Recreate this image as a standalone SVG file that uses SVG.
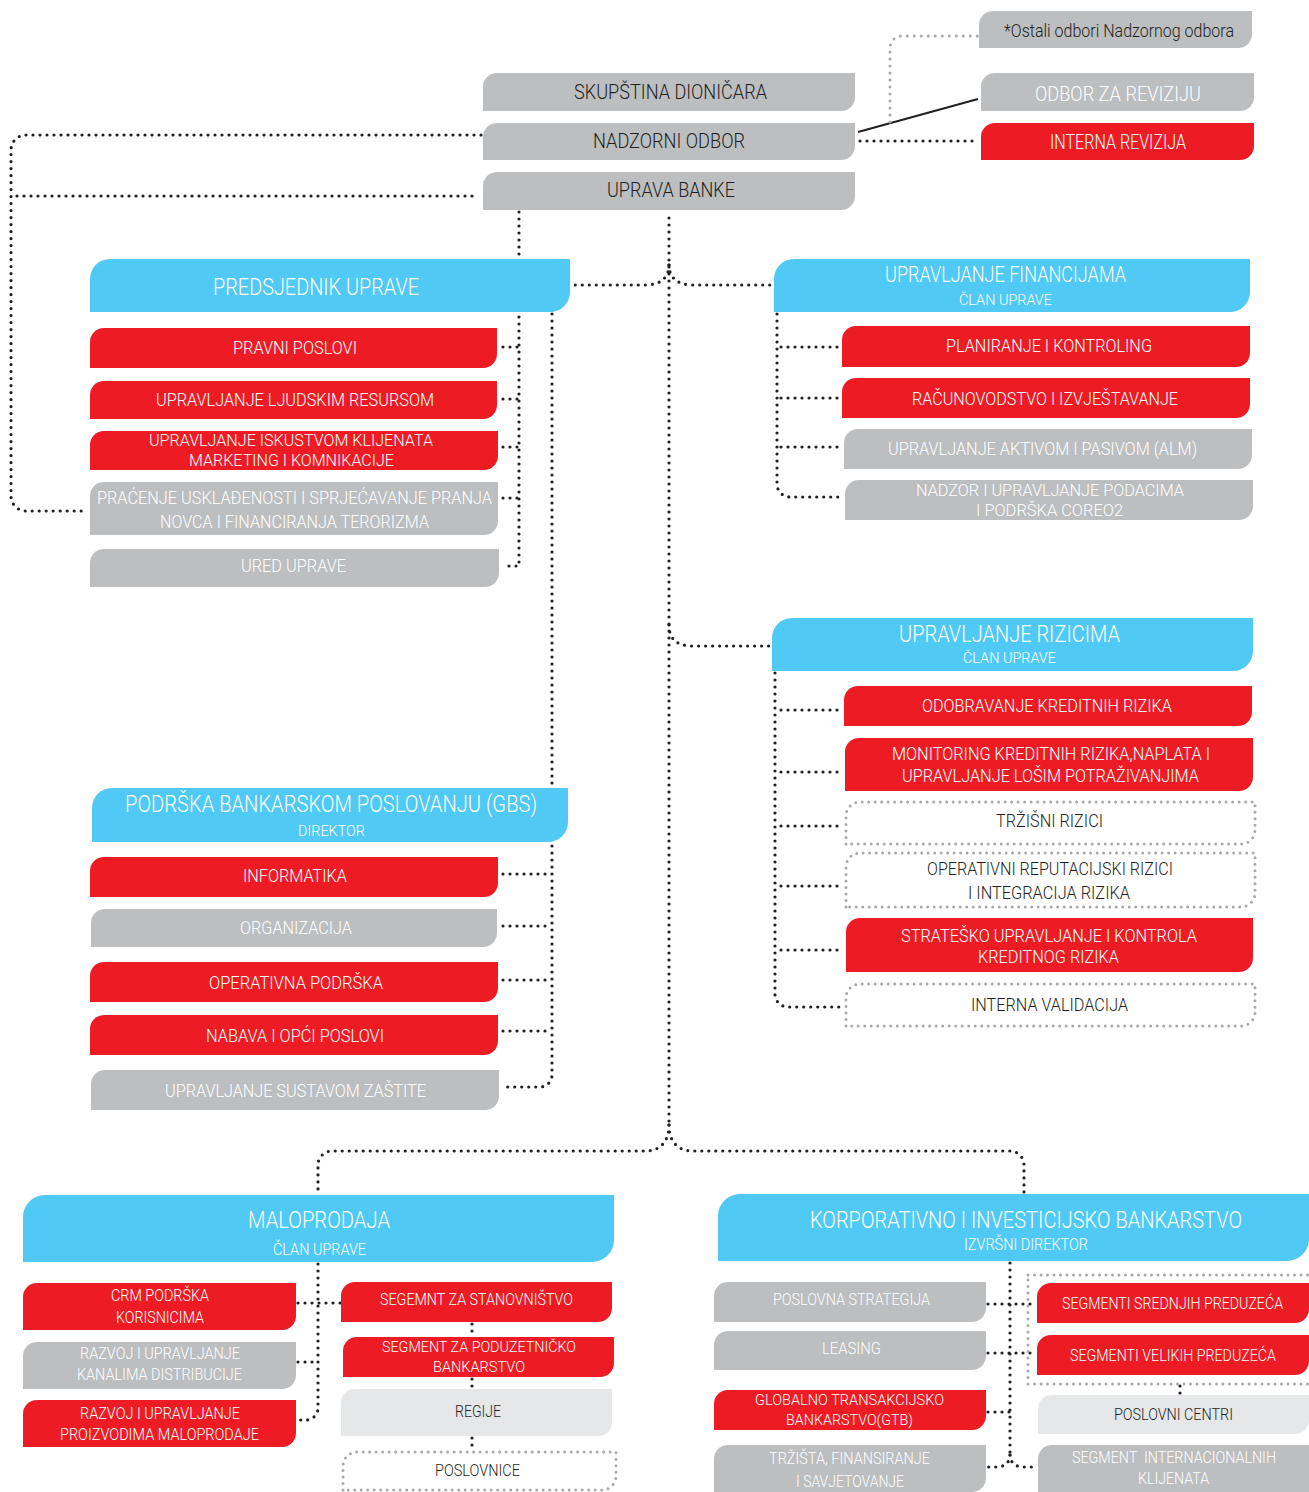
<svg xmlns="http://www.w3.org/2000/svg" width="1309" height="1492" viewBox="0 0 1309 1492">
<style>
.g{fill:#bcbec0}.r{fill:#ed1c24}.b{fill:#50c9f4}.l{fill:#e6e7e8}
.ob{fill:none;stroke:#a7a9ac;stroke-width:3;stroke-dasharray:0 6.5;stroke-linecap:round}
.d{fill:none;stroke:#231f20;stroke-width:3.2;stroke-dasharray:0 7;stroke-linecap:round}
.gd{fill:none;stroke:#a7a9ac;stroke-width:3;stroke-dasharray:0 7;stroke-linecap:round}
text{font-family:Roboto,"Liberation Sans",sans-serif;font-weight:300;text-anchor:middle}
.w{fill:#fff}.k{fill:#231f20}
.f24{font-size:24px}.f23{font-size:23px}.f22{font-size:22px}.f21{font-size:21px}.f20{font-size:20px}.f19{font-size:19px}.f18{font-size:18px}.f17{font-size:17px}.f16{font-size:16px}.f15{font-size:15px}
</style>
<rect width="1309" height="1492" fill="#fff"/>
<g id="connectors">
<path class="d" d="M860,141H978"/>
<path class="d" d="M481,135H26A15,15 0 0 0 11,150V496A15,15 0 0 0 26,511H88"/>
<path class="d" d="M472,196H11"/>
<path d="M858,132L978,99" stroke="#231f20" stroke-width="2" fill="none"/>
<path class="gd" d="M890,122V48A12,12 0 0 1 902,36H978"/>
<path class="d" d="M519,212V566H503"/>
<path class="d" d="M503,347H519M503,399H519M503,447H519M503,498H519"/>
<path class="d" d="M552,314V1075A12,12 0 0 1 540,1087H503"/>
<path class="d" d="M503,874H552M503,926H552M503,980H552M503,1031H552"/>
<path class="d" d="M669,218V1125"/>
<path class="d" d="M669,265C669,278 660,285 645,285H572"/>
<path class="d" d="M669,265C669,278 678,285 693,285H772"/>
<path class="d" d="M669,625C669,640 678,646 693,646H770"/>
<path class="d" d="M669,1125C669,1142 660,1151 645,1151H332A14,14 0 0 0 318,1165V1193"/>
<path class="d" d="M669,1125C669,1142 678,1151 693,1151H1010A14,14 0 0 1 1024,1165V1192"/>
<path class="d" d="M777,314V484A13,13 0 0 0 790,497H842"/>
<path class="d" d="M781,347H840M781,398H840M781,447H842"/>
<path class="d" d="M775,673V994A13,13 0 0 0 788,1007H845"/>
<path class="d" d="M781,710H842M781,772H842M781,826H842M781,886H842M781,950H842"/>
<path class="d" d="M318,1264V1408A12,12 0 0 1 306,1420H298"/>
<path class="d" d="M298,1303H341M298,1362H318"/>
<path class="d" d="M472,1324V1336M472,1379V1388M472,1438V1451"/>
<path class="d" d="M1010,1263V1455"/>
<path class="d" d="M1010,1455C1010,1463 1004,1467 996,1467H988"/>
<path class="d" d="M1010,1455C1010,1463 1016,1467 1024,1467H1038"/>
<path class="d" d="M988,1304H1037M988,1353H1037M988,1412H1010"/>
<path class="d" d="M1180,1386V1394"/>
</g>
<g id="n-skupstina"><path class="g" d="M483,111V87A14,14 0 0 1 497,73H855V97A14,14 0 0 1 841,111Z"/><text class="k f21" x="670.5" y="98.5" textLength="193" lengthAdjust="spacingAndGlyphs">SKUPŠTINA DIONIČARA</text></g>
<g id="n-nadzorni"><path class="g" d="M483,160V137A14,14 0 0 1 497,123H855V146A14,14 0 0 1 841,160Z"/><text class="k f21" x="669" y="147.5" textLength="152" lengthAdjust="spacingAndGlyphs">NADZORNI ODBOR</text></g>
<g id="n-uprava"><path class="g" d="M483,210V186A14,14 0 0 1 497,172H855V196A14,14 0 0 1 841,210Z"/><text class="k f21" x="671" y="196.5" textLength="128" lengthAdjust="spacingAndGlyphs">UPRAVA BANKE</text></g>
<g id="n-ostali"><path class="g" d="M979,48V25A14,14 0 0 1 993,11H1252V34A14,14 0 0 1 1238,48Z"/><text class="k f19" x="1119" y="36.5" textLength="230" lengthAdjust="spacingAndGlyphs">*Ostali odbori Nadzornog odbora</text></g>
<g id="n-odbor"><path class="g" d="M981,111V87A14,14 0 0 1 995,73H1254V97A14,14 0 0 1 1240,111Z"/><text class="w f21" x="1118" y="100.5" textLength="166" lengthAdjust="spacingAndGlyphs">ODBOR ZA REVIZIJU</text></g>
<g id="n-interna"><path class="r" d="M981,160V137A14,14 0 0 1 995,123H1254V146A14,14 0 0 1 1240,160Z"/><text class="w f20" x="1118" y="149" textLength="136" lengthAdjust="spacingAndGlyphs">INTERNA REVIZIJA</text></g>

<g id="n-predsjednik"><path class="b" d="M90,312V279A20,20 0 0 1 110,259H570V292A20,20 0 0 1 550,312Z"/><text class="w f24" x="316" y="294.5" textLength="206" lengthAdjust="spacingAndGlyphs">PREDSJEDNIK UPRAVE</text></g>
<g id="n-pravni"><path class="r" d="M90,368V342A14,14 0 0 1 104,328H497V354A14,14 0 0 1 483,368Z"/><text class="w f19" x="295" y="354" textLength="124" lengthAdjust="spacingAndGlyphs">PRAVNI POSLOVI</text></g>
<g id="n-ljudski"><path class="r" d="M90,419V395A14,14 0 0 1 104,381H497V405A14,14 0 0 1 483,419Z"/><text class="w f19" x="295" y="406" textLength="278" lengthAdjust="spacingAndGlyphs">UPRAVLJANJE LJUDSKIM RESURSOM</text></g>
<g id="n-iskustvo"><path class="r" d="M90,470V445A14,14 0 0 1 104,431H498V456A14,14 0 0 1 484,470Z"/><text class="w f16" x="291" y="445.8" textLength="284" lengthAdjust="spacingAndGlyphs">UPRAVLJANJE ISKUSTVOM KLIJENATA</text><text class="w f16" x="291.5" y="466.3" textLength="205" lengthAdjust="spacingAndGlyphs">MARKETING I KOMNIKACIJE</text></g>
<g id="n-pracenje"><path class="g" d="M90,535V496A14,14 0 0 1 104,482H498V521A14,14 0 0 1 484,535Z"/><text class="w f18" x="294.5" y="503.5" textLength="395" lengthAdjust="spacingAndGlyphs">PRAĆENJE USKLAĐENOSTI I SPRJEĆAVANJE PRANJA</text><text class="w f18" x="294.5" y="527.5" textLength="269" lengthAdjust="spacingAndGlyphs">NOVCA I FINANCIRANJA TERORIZMA</text></g>
<g id="n-ured"><path class="g" d="M90,587V563A14,14 0 0 1 104,549H499V573A14,14 0 0 1 485,587Z"/><text class="w f19" x="293.5" y="572" textLength="105" lengthAdjust="spacingAndGlyphs">URED UPRAVE</text></g>

<g id="n-financije"><path class="b" d="M774,312V279A20,20 0 0 1 794,259H1250V292A20,20 0 0 1 1230,312Z"/><text class="w f22" x="1005.5" y="282" textLength="241" lengthAdjust="spacingAndGlyphs">UPRAVLJANJE FINANCIJAMA</text><text class="w f15" x="1005.5" y="304.5" textLength="93" lengthAdjust="spacingAndGlyphs">ČLAN UPRAVE</text></g>
<g id="n-planiranje"><path class="r" d="M842,367V340A14,14 0 0 1 856,326H1250V353A14,14 0 0 1 1236,367Z"/><text class="w f19" x="1049" y="352" textLength="206" lengthAdjust="spacingAndGlyphs">PLANIRANJE I KONTROLING</text></g>
<g id="n-racunovodstvo"><path class="r" d="M842,418V392A14,14 0 0 1 856,378H1250V404A14,14 0 0 1 1236,418Z"/><text class="w f19" x="1045" y="405" textLength="266" lengthAdjust="spacingAndGlyphs">RAČUNOVODSTVO I IZVJEŠTAVANJE</text></g>
<g id="n-alm"><path class="g" d="M844,469V443A14,14 0 0 1 858,429H1252V455A14,14 0 0 1 1238,469Z"/><text class="w f19" x="1042.5" y="455" textLength="309" lengthAdjust="spacingAndGlyphs">UPRAVLJANJE AKTIVOM I PASIVOM (ALM)</text></g>
<g id="n-nadzor"><path class="g" d="M845,520V494A14,14 0 0 1 859,480H1253V506A14,14 0 0 1 1239,520Z"/><text class="w f17" x="1050" y="496" textLength="268" lengthAdjust="spacingAndGlyphs">NADZOR I UPRAVLJANJE PODACIMA</text><text class="w f17" x="1049.5" y="516" textLength="147" lengthAdjust="spacingAndGlyphs">I PODRŠKA COREO2</text></g>

<g id="n-rizici"><path class="b" d="M772,671V638A20,20 0 0 1 792,618H1253V651A20,20 0 0 1 1233,671Z"/><text class="w f23" x="1009.5" y="642" textLength="221" lengthAdjust="spacingAndGlyphs">UPRAVLJANJE RIZICIMA</text><text class="w f15" x="1009.5" y="662.5" textLength="93" lengthAdjust="spacingAndGlyphs">ČLAN UPRAVE</text></g>
<g id="n-odobravanje"><path class="r" d="M844,726V700A14,14 0 0 1 858,686H1252V712A14,14 0 0 1 1238,726Z"/><text class="w f19" x="1047" y="712" textLength="250" lengthAdjust="spacingAndGlyphs">ODOBRAVANJE KREDITNIH RIZIKA</text></g>
<g id="n-monitoring"><path class="r" d="M845,791V752A14,14 0 0 1 859,738H1253V777A14,14 0 0 1 1239,791Z"/><text class="w f18" x="1051" y="759.5" textLength="318" lengthAdjust="spacingAndGlyphs">MONITORING KREDITNIH RIZIKA,NAPLATA I</text><text class="w f18" x="1050.5" y="781.5" textLength="297" lengthAdjust="spacingAndGlyphs">UPRAVLJANJE LOŠIM POTRAŽIVANJIMA</text></g>
<g id="n-trzisni"><path class="ob" d="M846,844V816A14,14 0 0 1 860,802H1255V830A14,14 0 0 1 1241,844Z"/><text class="k f19" x="1049.5" y="827" textLength="107" lengthAdjust="spacingAndGlyphs">TRŽIŠNI RIZICI</text></g>
<g id="n-operativni"><path class="ob" d="M846,907V867A14,14 0 0 1 860,853H1255V893A14,14 0 0 1 1241,907Z"/><text class="k f18" x="1050" y="874.5" textLength="246" lengthAdjust="spacingAndGlyphs">OPERATIVNI REPUTACIJSKI RIZICI</text><text class="k f18" x="1049" y="898.5" textLength="162" lengthAdjust="spacingAndGlyphs">I INTEGRACIJA RIZIKA</text></g>
<g id="n-strateško"><path class="r" d="M846,972V932A14,14 0 0 1 860,918H1253V958A14,14 0 0 1 1239,972Z"/><text class="w f18" x="1049" y="941.5" textLength="296" lengthAdjust="spacingAndGlyphs">STRATEŠKO UPRAVLJANJE I KONTROLA</text><text class="w f18" x="1048.5" y="962.5" textLength="141" lengthAdjust="spacingAndGlyphs">KREDITNOG RIZIKA</text></g>
<g id="n-validacija"><path class="ob" d="M846,1026V998A14,14 0 0 1 860,984H1255V1012A14,14 0 0 1 1241,1026Z"/><text class="k f19" x="1049.5" y="1011" textLength="157" lengthAdjust="spacingAndGlyphs">INTERNA VALIDACIJA</text></g>

<g id="n-gbs"><path class="b" d="M92,842V808A20,20 0 0 1 112,788H568V822A20,20 0 0 1 548,842Z"/><text class="w f23" x="331" y="812" textLength="412" lengthAdjust="spacingAndGlyphs">PODRŠKA BANKARSKOM POSLOVANJU (GBS)</text><text class="w f15" x="331.5" y="835.5" textLength="67" lengthAdjust="spacingAndGlyphs">DIREKTOR</text></g>
<g id="n-informatika"><path class="r" d="M90,897V871A14,14 0 0 1 104,857H498V883A14,14 0 0 1 484,897Z"/><text class="w f19" x="295" y="882" textLength="104" lengthAdjust="spacingAndGlyphs">INFORMATIKA</text></g>
<g id="n-organizacija"><path class="g" d="M91,947V923A14,14 0 0 1 105,909H497V933A14,14 0 0 1 483,947Z"/><text class="w f19" x="296" y="934" textLength="112" lengthAdjust="spacingAndGlyphs">ORGANIZACIJA</text></g>
<g id="n-operativna"><path class="r" d="M90,1002V976A14,14 0 0 1 104,962H498V988A14,14 0 0 1 484,1002Z"/><text class="w f19" x="296" y="989" textLength="174" lengthAdjust="spacingAndGlyphs">OPERATIVNA PODRŠKA</text></g>
<g id="n-nabava"><path class="r" d="M90,1055V1029A14,14 0 0 1 104,1015H498V1041A14,14 0 0 1 484,1055Z"/><text class="w f19" x="295" y="1042" textLength="178" lengthAdjust="spacingAndGlyphs">NABAVA I OPĆI POSLOVI</text></g>
<g id="n-zastita"><path class="g" d="M91,1110V1084A14,14 0 0 1 105,1070H499V1096A14,14 0 0 1 485,1110Z"/><text class="w f19" x="295.5" y="1097" textLength="261" lengthAdjust="spacingAndGlyphs">UPRAVLJANJE SUSTAVOM ZAŠTITE</text></g>

<g id="n-maloprodaja"><path class="b" d="M23,1262V1217A22,22 0 0 1 45,1195H614V1240A22,22 0 0 1 592,1262Z"/><text class="w f23" x="319" y="1228" textLength="142" lengthAdjust="spacingAndGlyphs">MALOPRODAJA</text><text class="w f16" x="319.5" y="1254.5" textLength="93" lengthAdjust="spacingAndGlyphs">ČLAN UPRAVE</text></g>
<g id="n-crm"><path class="r" d="M23,1330V1297A14,14 0 0 1 37,1283H296V1316A14,14 0 0 1 282,1330Z"/><text class="w f16" x="160" y="1300.5" textLength="98" lengthAdjust="spacingAndGlyphs">CRM PODRŠKA</text><text class="w f16" x="160" y="1322.5" textLength="88" lengthAdjust="spacingAndGlyphs">KORISNICIMA</text></g>
<g id="n-kanali"><path class="g" d="M23,1389V1356A14,14 0 0 1 37,1342H296V1375A14,14 0 0 1 282,1389Z"/><text class="w f16" x="160" y="1358.5" textLength="160" lengthAdjust="spacingAndGlyphs">RAZVOJ I UPRAVLJANJE</text><text class="w f16" x="159.5" y="1379.5" textLength="165" lengthAdjust="spacingAndGlyphs">KANALIMA DISTRIBUCIJE</text></g>
<g id="n-proizvodi"><path class="r" d="M23,1447V1414A14,14 0 0 1 37,1400H296V1433A14,14 0 0 1 282,1447Z"/><text class="w f16" x="160" y="1418.5" textLength="160" lengthAdjust="spacingAndGlyphs">RAZVOJ I UPRAVLJANJE</text><text class="w f16" x="159.5" y="1439.5" textLength="199" lengthAdjust="spacingAndGlyphs">PROIZVODIMA MALOPRODAJE</text></g>
<g id="n-stanovnistvo"><path class="r" d="M341,1322V1296A14,14 0 0 1 355,1282H612V1308A14,14 0 0 1 598,1322Z"/><text class="w f17" x="476.5" y="1305" textLength="193" lengthAdjust="spacingAndGlyphs">SEGEMNT ZA STANOVNIŠTVO</text></g>
<g id="n-poduzetnicko"><path class="r" d="M343,1377V1351A14,14 0 0 1 357,1337H614V1363A14,14 0 0 1 600,1377Z"/><text class="w f15" x="479" y="1352.4" textLength="194" lengthAdjust="spacingAndGlyphs">SEGMENT ZA PODUZETNIČKO</text><text class="w f15" x="479" y="1372.4" textLength="92" lengthAdjust="spacingAndGlyphs">BANKARSTVO</text></g>
<g id="n-regije"><path class="l" d="M341,1436V1403A14,14 0 0 1 355,1389H612V1422A14,14 0 0 1 598,1436Z"/><text class="k f16" x="478" y="1416.5" textLength="46" lengthAdjust="spacingAndGlyphs">REGIJE</text></g>
<g id="n-poslovnice"><path class="ob" d="M343,1490V1466A14,14 0 0 1 357,1452H616V1476A14,14 0 0 1 602,1490Z"/><text class="k f16" x="477.5" y="1475.5" textLength="85" lengthAdjust="spacingAndGlyphs">POSLOVNICE</text></g>

<g id="n-korporativno"><path class="b" d="M718,1261V1216A22,22 0 0 1 740,1194H1309V1239A22,22 0 0 1 1287,1261Z"/><text class="w f23" x="1026" y="1228" textLength="432" lengthAdjust="spacingAndGlyphs">KORPORATIVNO I INVESTICIJSKO BANKARSTVO</text><text class="w f16" x="1026" y="1249.5" textLength="124" lengthAdjust="spacingAndGlyphs">IZVRŠNI DIREKTOR</text></g>
<g id="n-strategija"><path class="g" d="M714,1322V1296A14,14 0 0 1 728,1282H986V1308A14,14 0 0 1 972,1322Z"/><text class="w f16" x="851.5" y="1304.5" textLength="157" lengthAdjust="spacingAndGlyphs">POSLOVNA STRATEGIJA</text></g>
<g id="n-leasing"><path class="g" d="M714,1370V1345A14,14 0 0 1 728,1331H986V1356A14,14 0 0 1 972,1370Z"/><text class="w f16" x="851.5" y="1353.5" textLength="59" lengthAdjust="spacingAndGlyphs">LEASING</text></g>
<g id="n-gtb"><path class="r" d="M714,1430V1404A14,14 0 0 1 728,1390H986V1416A14,14 0 0 1 972,1430Z"/><text class="w f15" x="849.5" y="1405.4" textLength="189" lengthAdjust="spacingAndGlyphs">GLOBALNO TRANSAKCIJSKO</text><text class="w f15" x="849.5" y="1425.4" textLength="127" lengthAdjust="spacingAndGlyphs">BANKARSTVO(GTB)</text></g>
<g id="n-trzista"><path class="g" d="M714,1492V1459A14,14 0 0 1 728,1445H986V1478A14,14 0 0 1 972,1492Z"/><text class="w f16" x="849.5" y="1463.5" textLength="161" lengthAdjust="spacingAndGlyphs">TRŽIŠTA, FINANSIRANJE</text><text class="w f16" x="850" y="1486.5" textLength="108" lengthAdjust="spacingAndGlyphs">I SAVJETOVANJE</text></g>
<g id="n-segmenti-grupa"><rect class="ob" x="1028" y="1275" width="290" height="109"/></g>
<g id="n-srednja"><path class="r" d="M1037,1323V1297A14,14 0 0 1 1051,1283H1309V1309A14,14 0 0 1 1295,1323Z"/><text class="w f16" x="1172.5" y="1308.5" textLength="221" lengthAdjust="spacingAndGlyphs">SEGMENTI SREDNJIH PREDUZEĆA</text></g>
<g id="n-velika"><path class="r" d="M1037,1375V1349A14,14 0 0 1 1051,1335H1309V1361A14,14 0 0 1 1295,1375Z"/><text class="w f16" x="1173" y="1360.5" textLength="206" lengthAdjust="spacingAndGlyphs">SEGMENTI VELIKIH PREDUZEĆA</text></g>
<g id="n-centri"><path class="l" d="M1038,1434V1409A14,14 0 0 1 1052,1395H1309V1420A14,14 0 0 1 1295,1434Z"/><text class="k f16" x="1173.5" y="1419.5" textLength="119" lengthAdjust="spacingAndGlyphs">POSLOVNI CENTRI</text></g>
<g id="n-internacionalni"><path class="g" d="M1038,1492V1459A14,14 0 0 1 1052,1445H1309V1492Z"/><text class="w f16" x="1174" y="1462.5" textLength="204" lengthAdjust="spacingAndGlyphs" xml:space="preserve">SEGMENT  INTERNACIONALNIH</text><text class="w f16" x="1173.5" y="1483.5" textLength="71" lengthAdjust="spacingAndGlyphs">KLIJENATA</text></g>
</svg>
